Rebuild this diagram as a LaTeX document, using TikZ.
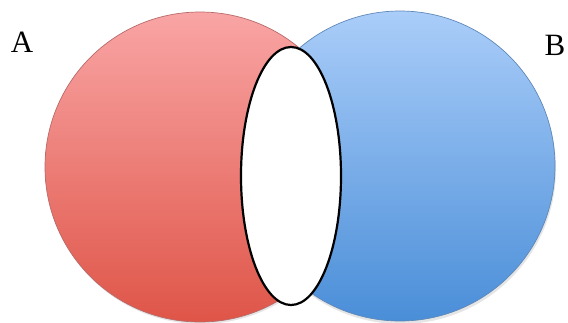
\documentclass[tikz,border=0pt]{standalone}
\usepackage{fontspec}
\setmainfont{Liberation Serif}
\usepackage{tikz}
\usetikzlibrary{positioning,calc}
\usepackage{xcolor}
\definecolor{setAtop}{HTML}{F9A5A5}
\definecolor{setAbot}{HTML}{DF5548}
\definecolor{setAedge}{HTML}{B86A6A}
\definecolor{setBtop}{HTML}{AACDF9}
\definecolor{setBbot}{HTML}{4A8ED8}
\definecolor{setBedge}{HTML}{5F88B8}

\begin{document}
\begin{tikzpicture}[x=1pt,y=-1pt,
    setlabel/.style={font=\fontsize{31}{34}\selectfont, inner sep=0pt},
    edgeline/.style={line width=0.7pt}]
  % Canvas
  \useasboundingbox (0,0) rectangle (568,322);
  % Soft shadows
  \fill[black!10] (201,169) circle (155);
  \fill[black!10] (401,169) circle (155);
  % Set A
  \shade[top color=setAtop, bottom color=setAbot] (200,167) circle (155);
  \draw[setAedge, edgeline] (200,167) circle (155);
  % Set B
  \shade[top color=setBtop, bottom color=setBbot] (400,166) circle (155);
  \draw[setBedge, edgeline] (400,166) circle (155);
  % Overlap
  \draw[black, line width=2.2pt, fill=white]
    (291,176) ellipse [x radius=50, y radius=129];
  % Labels
  \node[setlabel] (lblA) at (22,42) {A};
  \node[setlabel] (lblB) at (555,45) {B};
\end{tikzpicture}
\end{document}
